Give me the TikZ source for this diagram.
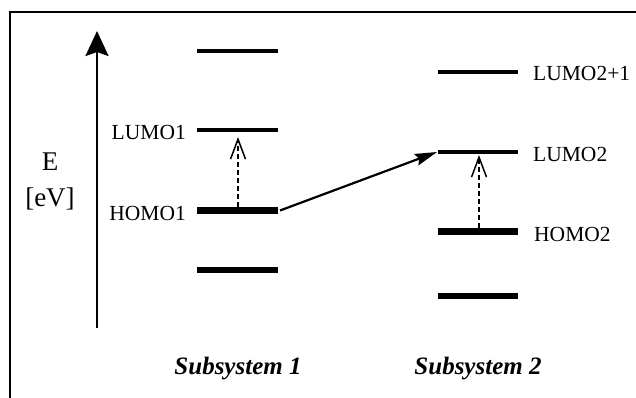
\documentclass[tikz,border=0pt]{standalone}
\usepackage{fontspec}
\setmainfont{Liberation Serif}
\usetikzlibrary{arrows.meta}
\begin{document}
\begin{tikzpicture}[x=1pt,y=-1pt,
  thinlevel/.style={line width=4pt},
  thicklevel/.style={line width=6.5pt},
  lbl/.style={font=\fontsize{21.5}{24}\selectfont, inner sep=0pt},
  axislbl/.style={font=\fontsize{27}{32}\selectfont, inner sep=0pt},
  sublbl/.style={font=\fontsize{25}{30}\selectfont\bfseries\itshape, inner sep=0pt},
  excite/.style={line width=1.6pt, dash pattern=on 5pt off 3pt, -{Straight Barb[length=20pt,width=15pt,line width=1.5pt]}},
  transfer/.style={line width=2.2pt, -{Stealth[length=22pt,width=12pt,inset=3pt]}}]
\useasboundingbox (0,0) rectangle (636,398);
% frame
\coordinate (fbl) at (10,398);
\coordinate (ftl) at (10,12);
\coordinate (ftr) at (636,12);
\draw[line width=2.2pt] (fbl) -- (ftl) -- (ftr);
% energy axis
\coordinate (ax0) at (97,328);
\coordinate (ax1) at (97,31);
\draw[line width=2.4pt, -{Stealth[length=25pt,width=23pt,inset=4pt]}] (ax0) -- (ax1);
\node[axislbl, anchor=base] (E) at (50,170) {E};
\node[axislbl, anchor=base] (eV) at (50,206) {[eV]};
% subsystem 1 levels
\coordinate (s1al) at (197,51.5);  \coordinate (s1ar) at (278,51.5);
\coordinate (s1bl) at (197,130.5); \coordinate (s1br) at (278,130.5);
\coordinate (s1cl) at (197,210.5); \coordinate (s1cr) at (278,210.5);
\coordinate (s1dl) at (197,270);   \coordinate (s1dr) at (278,270);
\draw[thinlevel] (s1al) -- (s1ar);
\draw[thinlevel] (s1bl) -- (s1br);
\draw[thicklevel] (s1cl) -- (s1cr);
\draw[thicklevel] (s1dl) -- (s1dr);
\node[lbl, anchor=base east] (lumo1) at (186,140) {LUMO1};
\node[lbl, anchor=base east] (homo1) at (186,220) {HOMO1};
% subsystem 2 levels
\coordinate (s2al) at (438,72);    \coordinate (s2ar) at (518,72);
\coordinate (s2bl) at (438,152);   \coordinate (s2br) at (518,152);
\coordinate (s2cl) at (438,231.5); \coordinate (s2cr) at (518,231.5);
\coordinate (s2dl) at (438,296);   \coordinate (s2dr) at (518,296);
\draw[thinlevel] (s2al) -- (s2ar);
\draw[thinlevel] (s2bl) -- (s2br);
\draw[thicklevel] (s2cl) -- (s2cr);
\draw[thicklevel] (s2dl) -- (s2dr);
\node[lbl, anchor=base west] (lumo21) at (533,81) {LUMO2+1};
\node[lbl, anchor=base west] (lumo2) at (533,161) {LUMO2};
\node[lbl, anchor=base west] (homo2) at (534,241) {HOMO2};
% excitations
\coordinate (e1s) at (238,207); \coordinate (e1t) at (238,137);
\coordinate (e2s) at (479,228); \coordinate (e2t) at (479,155);
\draw[excite] (e1s) -- (e1t);
\draw[excite] (e2s) -- (e2t);
% charge transfer
\coordinate (ts) at (280,210.5); \coordinate (tt) at (437,152);
\draw[transfer] (ts) -- (tt);
% subsystem labels
\node[sublbl, anchor=base] (sub1) at (238,374) {Subsystem 1};
\node[sublbl, anchor=base] (sub2) at (478,374) {Subsystem 2};
\end{tikzpicture}
\end{document}
